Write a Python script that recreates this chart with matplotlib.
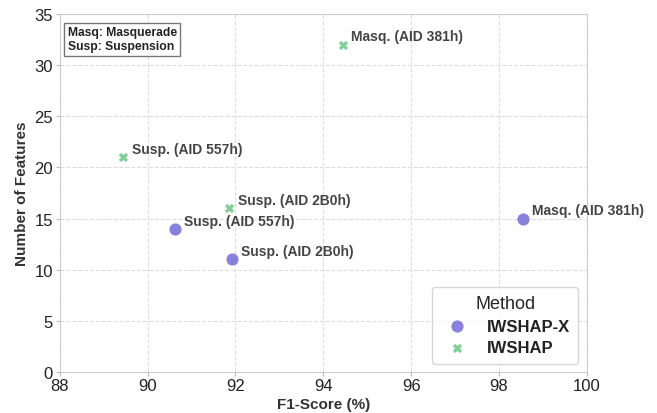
import matplotlib
matplotlib.use("Agg")
import matplotlib.pyplot as plt
import seaborn as sns

sns.set_style("whitegrid")
plt.rcParams['font.family'] = ['Liberation Sans', 'DejaVu Sans']

# dados
methods = ["IWSHAP-X", "IWSHAP"]
x_iwshapx = [90.63, 91.93, 98.56]
y_iwshapx = [14, 11, 15]
lab_iwshapx = ["Susp. (AID 557h)", "Susp. (AID 2B0h)", "Masq. (AID 381h)"]
x_iwshap = [89.45, 91.86, 94.45]
y_iwshap = [21, 16, 32]
lab_iwshap = ["Susp. (AID 557h)", "Susp. (AID 2B0h)", "Masq. (AID 381h)"]

c_x = "#8781dc"
c_s = "#7fcf99"

fig, ax = plt.subplots(figsize=(6.57, 4.14), dpi=100)
fig.subplots_adjust(left=0.091, right=0.893, top=0.964, bottom=0.099)
ax.scatter(x_iwshapx, y_iwshapx, s=60, marker="o", color=c_x, label=methods[0], zorder=3)
ax.scatter(x_iwshap, y_iwshap, s=45, marker="X", color=c_s, label=methods[1], zorder=3, linewidths=0)

for x, y, t in zip(x_iwshapx, y_iwshapx, lab_iwshapx):
    ax.annotate(t, (x, y), xytext=(6, 3), textcoords="offset points",
                fontsize=10, fontweight="bold", color="#444444")
for x, y, t in zip(x_iwshap, y_iwshap, lab_iwshap):
    ax.annotate(t, (x, y), xytext=(6, 3), textcoords="offset points",
                fontsize=10, fontweight="bold", color="#444444")

ax.set_xlim(88, 100)
ax.set_ylim(0, 35)
ax.set_xticks(range(88, 101, 2))
ax.set_yticks(range(0, 36, 5))
ax.tick_params(labelsize=12, length=3, pad=1, color="#bbbbbb", left=True, bottom=True, colors="#222222")
ax.tick_params(axis="y", pad=2)
ax.grid(True, linestyle="--", color="#dddddd", linewidth=0.8)
for sp in ax.spines.values():
    sp.set_color("#cccccc")

ax.set_xlabel("F1-Score (%)", fontsize=11, fontweight="bold", color="#333333", labelpad=3)
ax.set_ylabel("Number of Features", fontsize=11, fontweight="bold", color="#333333", labelpad=4)

ax.text(0.015, 0.965, "Masq: Masquerade\nSusp: Suspension", transform=ax.transAxes,
        fontsize=8.7, fontweight="bold", color="#222222", va="top", ha="left",
        bbox=dict(boxstyle="square,pad=0.3", facecolor="white", edgecolor="#777777"))

leg = ax.legend(title="Method", loc="lower right", fontsize=12, title_fontsize=13,
                frameon=True, borderpad=0.5, handletextpad=0.8, labelspacing=0.4)
for txt in leg.get_texts():
    txt.set_fontweight("bold")
    txt.set_color("#222222")

plt.savefig("out.png", dpi=100)
